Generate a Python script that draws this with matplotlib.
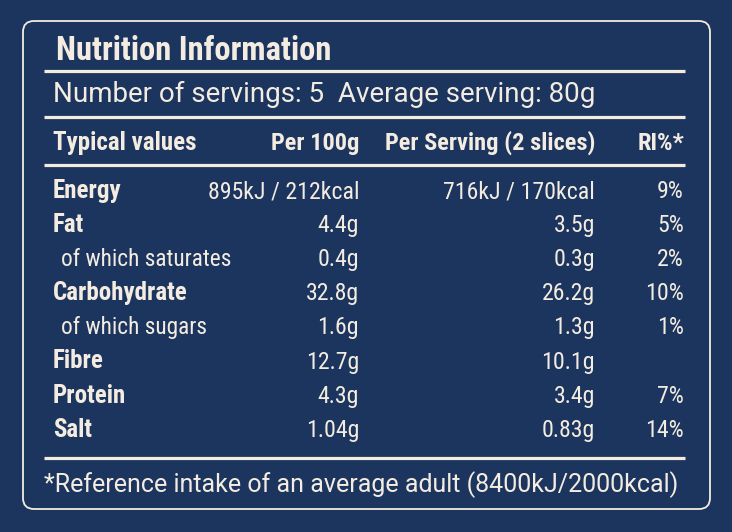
import matplotlib.pyplot as plt
from matplotlib.patches import FancyBboxPatch

title = "Nutrition Information"
servings_line = "Number of servings: 5  Average serving: 80g"
headers = ["Typical values", "Per 100g", "Per Serving (2 slices)", "RI%*"]
labels = ["Energy", "Fat", "of which saturates", "Carbohydrate", "of which sugars",
          "Fibre", "Protein", "Salt"]
is_sub = [False, False, True, False, True, False, False, False]
per_100g = ["895kJ / 212kcal", "4.4g", "0.4g", "32.8g", "1.6g", "12.7g", "4.3g", "1.04g"]
per_serving = ["716kJ / 170kcal", "3.5g", "0.3g", "26.2g", "1.3g", "10.1g", "3.4g", "0.83g"]
ri_pct = ["9%", "5%", "2%", "10%", "1%", "", "7%", "14%"]
footnote = "*Reference intake of an average adult (8400kJ/2000kcal)"

bg = "#1b355f"
fg = "#f4ece0"
narrow = ["Roboto Condensed", "DejaVu Sans"]
wide = ["Roboto", "DejaVu Sans"]

fig = plt.figure(figsize=(7.32, 5.32), dpi=100, facecolor=bg)
ax = fig.add_axes([0, 0, 1, 1])
ax.set_xlim(0, 732)
ax.set_ylim(532, 0)
ax.axis("off")

box = FancyBboxPatch((23, 21), 687, 488, boxstyle="round,pad=0,rounding_size=11",
                     fc="none", ec=fg, lw=1.3)
ax.add_patch(box)

ax.text(56, 60, title, color=fg, fontsize=23.5, fontweight="bold", family=narrow,
        va="baseline")
for y in [71, 117, 165, 458]:
    ax.plot([44, 685], [y, y], color=fg, lw=2.3, solid_capstyle="butt")

ax.text(53, 102, servings_line, color=fg, fontsize=20, family=wide, va="baseline")

col_x = [53, 359, 595, 684]
ax.text(col_x[0], 150, headers[0], color=fg, fontsize=18, fontweight="bold",
        family=narrow, va="baseline")
for x, h in zip(col_x[1:], headers[1:]):
    ax.text(x, 150, h, color=fg, fontsize=17.6, fontweight="bold", family=narrow,
            va="baseline", ha="right")

row0, step = 198, 34.1
for i, lab in enumerate(labels):
    y = row0 + i * step
    if is_sub[i]:
        ax.text(61, y, lab, color=fg, fontsize=16.8, family=narrow, va="baseline")
    else:
        ax.text(53, y, lab, color=fg, fontsize=18, fontweight="bold", family=narrow,
                va="baseline")
    for x, v in zip(col_x[1:], [per_100g[i], per_serving[i], ri_pct[i]]):
        ax.text(x, y, v, color=fg, fontsize=17.2, family=narrow, va="baseline", ha="right")

ax.text(44, 492, footnote, color=fg, fontsize=18, family=wide, va="baseline")

fig.savefig("out.png", dpi=100, facecolor=bg)
